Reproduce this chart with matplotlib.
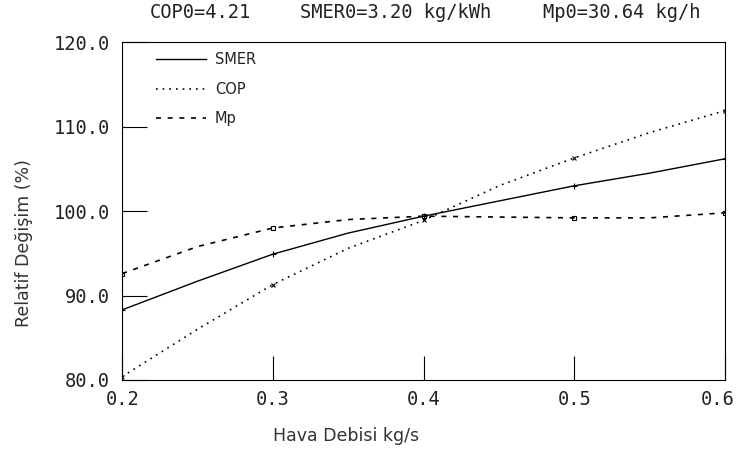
import matplotlib
matplotlib.use("Agg")
import matplotlib.pyplot as plt
import matplotlib.transforms as mtransforms

# values (relative change, %)
hava_debisi = [0.20, 0.25, 0.30, 0.35, 0.40, 0.45, 0.50, 0.55, 0.60]
smer = [88.3, 91.7, 94.9, 97.4, 99.4, 101.2, 103.0, 104.5, 106.2]
cop = [80.4, 86.0, 91.3, 95.6, 98.9, 103.0, 106.3, 109.3, 111.9]
mp = [92.6, 95.8, 98.0, 99.0, 99.4, 99.3, 99.2, 99.2, 99.8]

x_ticks = [0.2, 0.3, 0.4, 0.5, 0.6]
y_ticks = [80, 90, 100, 110, 120]
baslik = ["COP0=4.21", "SMER0=3.20 kg/kWh", "Mp0=30.64 kg/h"]

mono = "DejaVu Sans Mono"
koyu = "#222222"

fig = plt.figure(figsize=(7.36, 4.55), dpi=100)
ax = fig.add_axes([0.166, 0.165, 0.819, 0.742])

every = [0, 2, 4, 6, 8]
ax.plot(hava_debisi, smer, color="black", lw=1.0, ls="-", label="SMER",
        marker="+", ms=4, mew=0.8, markevery=every)
ax.plot(hava_debisi, cop, color="black", lw=1.2, ls=(0, (1, 3)), label="COP",
        marker="x", ms=3, mew=0.8, markevery=every)
ax.plot(hava_debisi, mp, color="black", lw=1.2, ls=(0, (3, 4)), label="Mp",
        marker="s", ms=2.5, mew=0.8, mfc="none", markevery=every)

ax.set_xlim(0.2, 0.6)
ax.set_ylim(80, 120)
ax.set_xticks(x_ticks)
ax.set_yticks(y_ticks)
ax.set_xticklabels(["%.1f" % v for v in x_ticks], family=mono, fontsize=13.5,
                   color=koyu)
ax.set_yticklabels(["%.1f" % v for v in y_ticks], family=mono, fontsize=13.5,
                   color=koyu)
ax.tick_params(axis="x", direction="in", length=17, width=0.8, pad=7)
ax.tick_params(axis="y", direction="in", length=18, width=0.8, pad=9)
for s in ax.spines.values():
    s.set_linewidth(0.8)

# keep the last x label inside the picture
son = ax.get_xticklabels()[-1]
son.set_transform(son.get_transform() +
                  mtransforms.ScaledTranslation(-0.07, 0, fig.dpi_scale_trans))

leg = ax.legend(loc="upper left", frameon=False, fontsize=10.5,
                handlelength=3.4, handletextpad=0.6, labelspacing=1.0,
                bbox_to_anchor=(0.035, 1.01))
for h in leg.legend_handles:
    h.set_marker("")
for t in leg.get_texts():
    t.set_color(koyu)

for xp, t in zip([150, 300, 543], baslik):
    fig.text(xp / 736, 0.972, t, family=mono, fontsize=13.5, ha="left",
             va="center", color=koyu)
fig.text(346 / 736, 1 - 436 / 455, "Hava Debisi kg/s", fontsize=12.5,
         ha="center", va="center", color="#333333")
fig.text(24 / 736, 1 - 243 / 455, "Relatif Değişim (%)", fontsize=12.5,
         rotation=90, ha="center", va="center", color="#333333")

fig.savefig("out.png", dpi=100)
